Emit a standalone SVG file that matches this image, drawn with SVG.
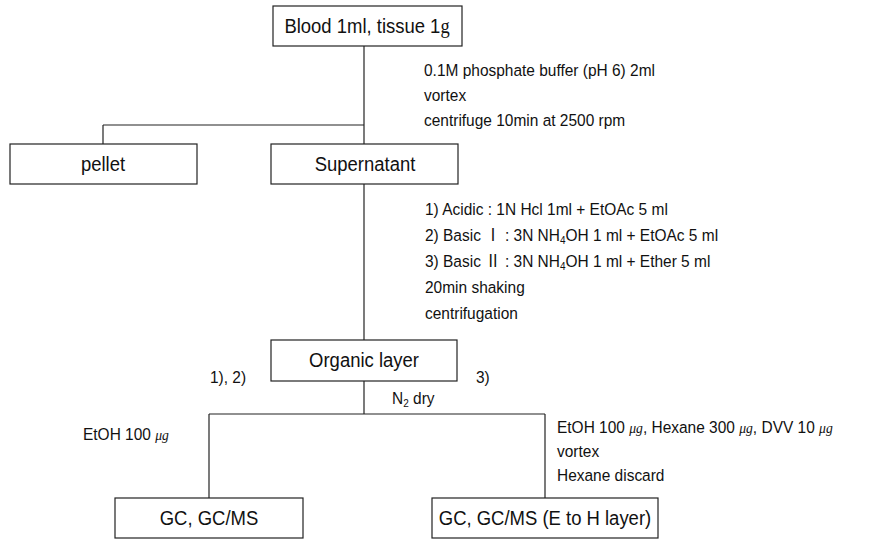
<svg xmlns="http://www.w3.org/2000/svg" width="873" height="544" viewBox="0 0 873 544">
<style>
.box{fill:#fff;stroke:#222;stroke-width:1.2}
.lbl{font-family:"Liberation Sans",Arial,"Noto Sans CJK KR",sans-serif;font-size:21px;fill:#111;text-anchor:middle}
.note{font-family:"Liberation Sans",Arial,"Noto Sans CJK KR",sans-serif;font-size:17px;fill:#111}
.mu{font-family:"Liberation Serif","Times New Roman",serif;font-style:italic;font-size:15px}
.sub{font-size:11px}
.conn line{stroke:#222;stroke-width:1.2}
</style>
<rect width="873" height="544" fill="#fff"/>
<g id="connectors" class="conn">
<line x1="364" y1="46" x2="364" y2="144"/>
<line x1="103" y1="125" x2="364" y2="125"/>
<line x1="103" y1="125" x2="103" y2="144"/>
<line x1="364" y1="184" x2="364" y2="340"/>
<line x1="364" y1="381" x2="364" y2="414"/>
<line x1="209" y1="414" x2="545" y2="414"/>
<line x1="209" y1="414" x2="209" y2="498"/>
<line x1="545" y1="414" x2="545" y2="498"/>
</g>
<g id="blood">
<rect class="box" x="273" y="6" width="189" height="40"/>
<text class="lbl" transform="translate(367 33) scale(0.88 1)">Blood 1ml, tissue 1<tspan font-family="Liberation Serif,serif">g</tspan></text>
</g>
<g id="step1-notes">
<text class="note" transform="translate(424 76) scale(0.91 1)">0.1M phosphate buffer (pH 6) 2ml</text>
<text class="note" transform="translate(424 101) scale(0.91 1)">vortex</text>
<text class="note" transform="translate(424 126) scale(0.91 1)">centrifuge 10min at 2500 rpm</text>
</g>
<g id="pellet">
<rect class="box" x="10" y="144" width="187" height="40"/>
<text class="lbl" transform="translate(103 171) scale(0.88 1)">pellet</text>
</g>
<g id="supernatant">
<rect class="box" x="271" y="144" width="187" height="40"/>
<text class="lbl" transform="translate(365 171) scale(0.88 1)">Supernatant</text>
</g>
<g id="step2-notes">
<text class="note" transform="translate(425 215) scale(0.91 1)">1) Acidic : 1N Hcl 1ml + EtOAc 5 ml</text>
<text class="note" transform="translate(425 241) scale(0.91 1)">2) Basic  Ⅰ : 3N NH<tspan class="sub" dy="3">4</tspan><tspan dy="-3">OH 1 ml + EtOAc 5 ml</tspan></text>
<text class="note" transform="translate(425 267) scale(0.91 1)">3) Basic Ⅱ : 3N NH<tspan class="sub" dy="3">4</tspan><tspan dy="-3">OH 1 ml + Ether 5 ml</tspan></text>
<text class="note" transform="translate(425 293) scale(0.91 1)">20min shaking</text>
<text class="note" transform="translate(425 319) scale(0.91 1)">centrifugation</text>
</g>
<g id="organic">
<rect class="box" x="271" y="340" width="186" height="41"/>
<text class="lbl" transform="translate(364 367) scale(0.88 1)">Organic layer</text>
</g>
<g id="branch-labels">
<text class="note" transform="translate(210 383) scale(0.91 1)">1), 2)</text>
<text class="note" transform="translate(476 383) scale(0.91 1)">3)</text>
<text class="note" transform="translate(392 404) scale(0.91 1)">N<tspan class="sub" dy="3">2</tspan><tspan dy="-3"> dry</tspan></text>
<text class="note" transform="translate(83 440) scale(0.91 1)">EtOH 100 <tspan class="mu">μg</tspan></text>
<text class="note" transform="translate(557 433) scale(0.91 1)">EtOH 100 <tspan class="mu">μg</tspan>, Hexane 300 <tspan class="mu">μg</tspan>, DVV 10 <tspan class="mu">μg</tspan></text>
<text class="note" transform="translate(557 457) scale(0.91 1)">vortex</text>
<text class="note" transform="translate(557 481) scale(0.91 1)">Hexane discard</text>
</g>
<g id="gc-left">
<rect class="box" x="115" y="498" width="188" height="40"/>
<text class="lbl" transform="translate(209 525) scale(0.88 1)">GC, GC/MS</text>
</g>
<g id="gc-right">
<rect class="box" x="432" y="498" width="226" height="40"/>
<text class="lbl" transform="translate(545 525) scale(0.88 1)">GC, GC/MS (E to H layer)</text>
</g>
</svg>
